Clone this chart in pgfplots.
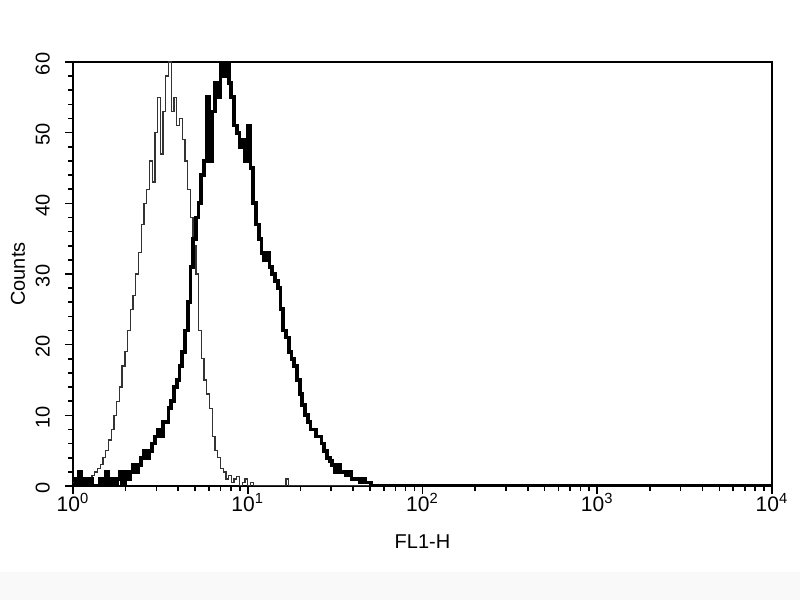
\documentclass[border=0pt]{standalone}
\usepackage{pgfplots}
\pgfplotsset{compat=1.18}
\usepackage{pgfplotstable}
\usepackage{fontspec}
\setmainfont{Liberation Sans}
\setsansfont{Liberation Sans}

% channel (256 channels over 4 decades), counts
\pgfplotstableread{
ch  thin  thick
0   0.5   1
1   0     0
2   1     2
3   0     0
4   1     1
5   0.5   0
6   1     1
7   1.5   0
8   2     0
9   2.5   0
10  3     1
11  4     0
12  5     2
13  6.5   0
14  8     1
15  10    0
16  12    1
17  14    2
18  17    0
19  19    2
20  22    1
21  25    2
22  27    3
23  30    2
24  33    3
25  37    4
26  40    5
27  42    4
28  46    5
29  43    6
30  50    7
31  55    8
32  47    7
33  53    9
34  58    9
35  60    11
36  53    12
37  55    14
38  51    15
39  52    17
40  49    19
41  46    22
42  42    26
43  38    31
44  34    35
45  30    38
46  22    40
47  18    44
48  15    46
49  13    55
50  11    46
51  7     53
52  5     57
53  4     55
54  2.5   60
55  2     58
56  1     60
57  1.5   57
58  0.5   55
59  1     51
60  1.3   50
61  0     48
62  0.5   49
63  1     46
64  0     51
65  0.5   45
66  0     40
67  0     37
68  0     35
69  0     33
70  0     32
71  0     33
72  0     31
73  0     30
74  0     29
75  0     28
76  0     25
77  0     22
78  1     21
79  0     19
80  0     18
81  0     17
82  0     15
83  0     13
84  0     11.5
85  0     10
86  0     9
87  0     8
88  0     8
89  0     7
90  0     7
91  0     6
92  0     5
93  0     4
94  0     3.5
95  0     3
96  0     2
97  0     3
98  0     2
99  0     2
100 0     1.5
101 0     2
102 0     1
103 0     1
104 0     1
105 0     0.5
106 0     1
107 0     0.5
108 0     0.5
109 0     0
110 0     0
256 0     0
}\datatable

\begin{document}
\begin{tikzpicture}
\fill[white] (-36.5pt,-57pt) rectangle (363.5pt,243pt);
\fill[gray!5] (-36.5pt,-43pt) rectangle (363.5pt,-57pt);
\path[use as bounding box] (-36.5pt,-57pt) rectangle (363.5pt,243pt);
\begin{axis}[
  at={(0,0)}, anchor=south west,
  scale only axis,
  width=349.5pt, height=212pt,
  xmin=0, xmax=256, ymin=0, ymax=60,
  axis line style={line width=1pt},
  xtick={0,64,128,192,256},
  xticklabels={10\textsuperscript{0},10\textsuperscript{1},10\textsuperscript{2},10\textsuperscript{3},10\textsuperscript{4}},
  minor xtick={19.27,30.54,38.53,44.74,49.80,54.09,57.80,61.07,
    83.27,94.54,102.53,108.74,113.80,118.09,121.80,125.07,
    147.27,158.54,166.53,172.74,177.80,182.09,185.80,189.07,
    211.27,222.54,230.53,236.74,241.80,246.09,249.80,253.07},
  ytick={0,10,20,30,40,50,60},
  minor ytick={2,4,6,8,12,14,16,18,22,24,26,28,32,34,36,38,42,44,46,48,52,54,56,58},
  tick align=outside,
  xtick pos=bottom, ytick pos=left,
  major tick length=4pt, minor tick length=2.5pt,
  tick style={line width=0.8pt, black},
  yticklabel style={rotate=90, anchor=south, font=\fontsize{10}{11}\selectfont, xshift=-1pt, yshift=4pt},
  xticklabel style={font=\fontsize{10.5}{11}\selectfont, anchor=north, yshift=4pt},
  /pgf/number format/assume math mode=true,
  xlabel={FL1-H}, ylabel={Counts},
  xlabel style={font=\fontsize{10}{11}\selectfont, yshift=-5pt},
  ylabel style={font=\fontsize{10}{11}\selectfont, yshift=-1.5pt},
]
\addplot[const plot, draw=black!80, line width=0.65pt] table[x=ch, y=thin] {\datatable};
\addplot[const plot, draw=black, line width=1.9pt] table[x=ch, y=thick] {\datatable};
\end{axis}
\end{tikzpicture}
\end{document}
